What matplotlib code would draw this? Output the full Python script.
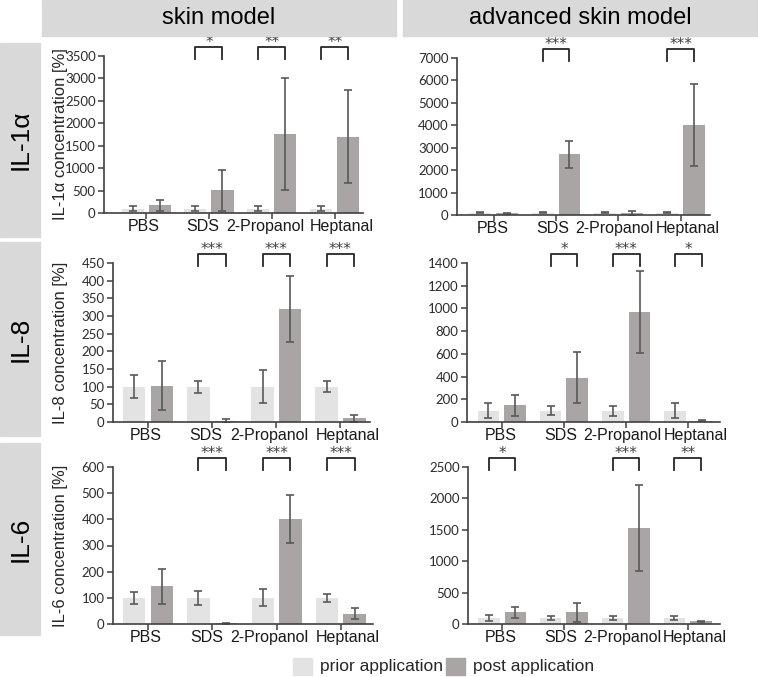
import numpy as np
import matplotlib
matplotlib.use("Agg")
import matplotlib.pyplot as plt
import matplotlib.transforms as mtransforms
from matplotlib.patches import Rectangle
from matplotlib import font_manager

plt.rcParams['font.family'] = ['Liberation Sans', 'DejaVu Sans']

# narrow face for the category labels if there is one
try:
    font_manager.findfont('Liberation Sans Narrow', fallback_to_default=False)
    CAT_FONT, CAT_SIZE = 'Liberation Sans Narrow', 14.5
except ValueError:
    CAT_FONT, CAT_SIZE = 'Liberation Sans', 11.5

# --- data ---
categories = ['PBS', 'SDS', '2-Propanol', 'Heptanal']

il1a_skin_prior = [100, 100, 100, 100]
il1a_skin_prior_err = [60, 45, 45, 60]
il1a_skin_post = [170, 505, 1765, 1705]
il1a_skin_post_err = [130, 450, 1250, 1030]
il1a_skin_sig = ['', '*', '**', '**']

il1a_adv_prior = [100, 100, 100, 100]
il1a_adv_prior_err = [20, 20, 20, 20]
il1a_adv_post = [70, 2700, 80, 4000]
il1a_adv_post_err = [20, 610, 110, 1820]
il1a_adv_sig = ['', '***', '', '***']

il8_skin_prior = [100, 100, 100, 100]
il8_skin_prior_err = [33, 17, 46, 16]
il8_skin_post = [103, 3, 320, 10]
il8_skin_post_err = [70, 6, 93, 10]
il8_skin_sig = ['', '***', '***', '***']

il8_adv_prior = [100, 100, 100, 100]
il8_adv_prior_err = [68, 40, 45, 64]
il8_adv_post = [148, 390, 969, 12]
il8_adv_post_err = [92, 223, 360, 6]
il8_adv_sig = ['', '*', '***', '*']

il6_skin_prior = [100, 100, 100, 100]
il6_skin_prior_err = [24, 26, 32, 16]
il6_skin_post = [144, 3, 400, 40]
il6_skin_post_err = [67, 2, 92, 21]
il6_skin_sig = ['', '***', '***', '***']

il6_adv_prior = [100, 100, 100, 100]
il6_adv_prior_err = [50, 35, 32, 32]
il6_adv_post = [184, 184, 1535, 40]
il6_adv_post_err = [85, 158, 685, 12]
il6_adv_sig = ['*', '', '***', '**']

yticks_il1a_skin = np.arange(0, 3501, 500)
yticks_il1a_adv = np.arange(0, 7001, 1000)
yticks_il8_skin = np.arange(0, 451, 50)
yticks_il8_adv = np.arange(0, 1401, 200)
yticks_il6_skin = np.arange(0, 601, 100)
yticks_il6_adv = np.arange(0, 2501, 500)

col_titles = ['skin model', 'advanced skin model']
row_titles = ['IL-1α', 'IL-8', 'IL-6']
legend_labels = ['prior application', 'post application']

PRIOR = '#e3e3e3'
POST = '#a9a5a5'
ERR = '#595959'
AX = '#404040'
BOX = '#d9d9d9'

W, H = 758, 677
fig = plt.figure(figsize=(W / 100, H / 100), dpi=100)


def rect(x0, x1, ytop, ybot):
    return [x0 / W, 1 - ybot / H, (x1 - x0) / W, (ybot - ytop) / H]


# header / row boxes
for (x0, x1), t in zip([(42, 396), (403, 758)], col_titles):
    fig.patches.append(Rectangle((x0 / W, 1 - 36 / H), (x1 - x0) / W, 36 / H,
                                 transform=fig.transFigure, color=BOX, zorder=0))
    fig.text((x0 + x1) / 2 / W, 1 - 18 / H, t, ha='center', va='center', fontsize=17)

for (y0, y1), t in zip([(43, 237), (242, 436), (443, 635)], row_titles):
    fig.patches.append(Rectangle((0, 1 - y1 / H), 40 / W, (y1 - y0) / H,
                                 transform=fig.transFigure, color=BOX, zorder=0))
    fig.text(21 / W, 1 - (y0 + y1) / 2 / H, t, ha='center', va='center',
             rotation=90, fontsize=19)

shift_left = [-2, -6, -7, 7]   # px, label nudges in the left column
shift_right = [-1, -3, -4, 7]  # px, label nudges in the right column

panels = [
    # axes rect, xlim, data, ylabel, label nudges
    (rect(104, 363, 56, 213), (-0.67, 3.45), il1a_skin_prior, il1a_skin_prior_err,
     il1a_skin_post, il1a_skin_post_err, il1a_skin_sig, yticks_il1a_skin,
     'IL-1α concentration [%]', shift_left),
    (rect(457, 710, 58, 215), (-0.59, 3.47), il1a_adv_prior, il1a_adv_prior_err,
     il1a_adv_post, il1a_adv_post_err, il1a_adv_sig, yticks_il1a_adv, None, shift_right),
    (rect(113, 370, 263, 422), (-0.545, 3.46), il8_skin_prior, il8_skin_prior_err,
     il8_skin_post, il8_skin_post_err, il8_skin_sig, yticks_il8_skin,
     'IL-8 concentration [%]', shift_left),
    (rect(467, 720, 263, 422), (-0.56, 3.51), il8_adv_prior, il8_adv_prior_err,
     il8_adv_post, il8_adv_post_err, il8_adv_sig, yticks_il8_adv, None, shift_right),
    (rect(113, 373, 467, 624), (-0.545, 3.5), il6_skin_prior, il6_skin_prior_err,
     il6_skin_post, il6_skin_post_err, il6_skin_sig, yticks_il6_skin,
     'IL-6 concentration [%]', shift_left),
    (rect(468, 720, 467, 624), (-0.55, 3.52), il6_adv_prior, il6_adv_prior_err,
     il6_adv_post, il6_adv_post_err, il6_adv_sig, yticks_il6_adv, None, shift_right),
]

x = np.arange(len(categories))
off, bw = 0.215, 0.35
ekw = dict(ecolor=ERR, elinewidth=1.2, capsize=3, capthick=1.2)

for pos, xl, pr, pre, po, poe, sig, yt, ylab, shifts in panels:
    ax = fig.add_axes(pos)
    ax.bar(x - off, pr, bw, yerr=pre, color=PRIOR, error_kw=ekw)
    ax.bar(x + off, po, bw, yerr=poe, color=POST, error_kw=ekw)
    ax.set_xlim(*xl)
    ax.set_ylim(0, yt[-1])
    ax.set_yticks(yt)
    ax.set_xticks(x)
    ax.set_xticklabels([])
    for lab in ax.get_yticklabels():
        lab.set_fontfamily('Lato')
        lab.set_fontsize(9.5)
    ax.tick_params(axis='both', colors=AX, length=4, width=1.1, pad=2)
    ax.tick_params(axis='y', labelcolor='#2b2b2b')
    for s in ['top', 'right']:
        ax.spines[s].set_visible(False)
    for s in ['left', 'bottom']:
        ax.spines[s].set_color(AX)
        ax.spines[s].set_linewidth(1.2)

    # category labels, nudged sideways like the original
    tr = mtransforms.blended_transform_factory(ax.transData, ax.transAxes)
    for i, (c, dx) in enumerate(zip(categories, shifts)):
        t = tr + mtransforms.ScaledTranslation(dx / 100, -6 / 100, fig.dpi_scale_trans)
        ax.text(i, 0, c, ha='center', va='top', fontsize=CAT_SIZE, family=CAT_FONT,
                transform=t, color='#1a1a1a')

    # significance brackets
    star_tr = tr + mtransforms.ScaledTranslation(0, 0, fig.dpi_scale_trans)
    for i, s in enumerate(sig):
        if not s:
            continue
        xa, xb = i - off, i + off
        ax.plot([xa, xa, xb, xb], [0.98, 1.055, 1.055, 0.98], color='#262626',
                lw=1.3, transform=tr, clip_on=False)
        ax.text(i, 1.055, s, ha='center', va='baseline', fontsize=11, color='#404040',
                family='DejaVu Sans', transform=star_tr, clip_on=False)

    if ylab:
        fig.text(60 / W, pos[1] + pos[3] / 2, ylab, rotation=90, ha='center',
                 va='center', fontsize=12, color='#262626')

# legend
for x0, c, t in [(293, PRIOR, legend_labels[0]), (446, POST, legend_labels[1])]:
    fig.patches.append(Rectangle((x0 / W, 1 - 675 / H), 19 / W, 17 / H,
                                 transform=fig.transFigure, color=c))
    fig.text((x0 + 27) / W, 1 - 667 / H, t, ha='left', va='center', fontsize=12.5,
             color='#262626')

fig.savefig('out.png', dpi=100, facecolor='white')
